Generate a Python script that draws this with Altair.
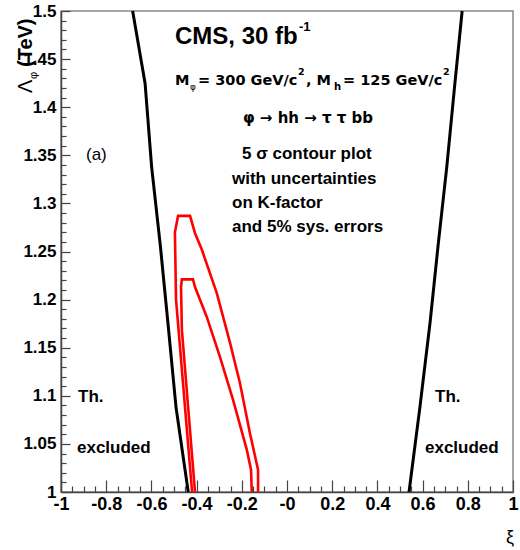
import altair as alt
import pandas as pd

# ---------------- data ----------------
lam_th = [1.5, 1.425, 1.338, 1.255, 1.176, 1.088, 1.0]
th_left_xi = [-0.683, -0.628, -0.599, -0.560, -0.527, -0.491, -0.437]
th_right_xi = [0.775, 0.743, 0.707, 0.668, 0.633, 0.588, 0.540]

outer_xi = [-0.420, -0.491, -0.496, -0.482, -0.429, -0.407, -0.377, -0.311,
            -0.252, -0.208, -0.164, -0.128, -0.128]
outer_lam = [1.000, 1.200, 1.270, 1.287, 1.287, 1.269, 1.252, 1.207,
             1.155, 1.113, 1.061, 1.023, 1.000]
inner_xi = [-0.407, -0.465, -0.469, -0.465, -0.416, -0.407, -0.355, -0.296,
            -0.239, -0.178, -0.159, -0.156]
inner_lam = [1.000, 1.168, 1.213, 1.221, 1.221, 1.213, 1.182, 1.140,
             1.096, 1.044, 1.023, 1.000]

x_major = [-1, -0.8, -0.6, -0.4, -0.2, 0, 0.2, 0.4, 0.6, 0.8, 1]
y_major = [1, 1.05, 1.1, 1.15, 1.2, 1.25, 1.3, 1.35, 1.4, 1.45, 1.5]
x_minor = [-0.95, -0.9, -0.85, -0.75, -0.7, -0.65, -0.55, -0.5, -0.45, -0.35, -0.3, -0.25,
           -0.15, -0.1, -0.05, 0.05, 0.1, 0.15, 0.25, 0.3, 0.35, 0.45, 0.5, 0.55,
           0.65, 0.7, 0.75, 0.85, 0.9, 0.95]
y_minor = [1.01, 1.02, 1.03, 1.04, 1.06, 1.07, 1.08, 1.09, 1.11, 1.12, 1.13, 1.14,
           1.16, 1.17, 1.18, 1.19, 1.21, 1.22, 1.23, 1.24, 1.26, 1.27, 1.28, 1.29,
           1.31, 1.32, 1.33, 1.34, 1.36, 1.37, 1.38, 1.39, 1.41, 1.42, 1.43, 1.44,
           1.46, 1.47, 1.48, 1.49]

# ---------------- layout ----------------
W, H = 452, 481
OX, OY = 61, 11
FONT = "Liberation Sans"
WIDE = "DejaVu Sans"

rows = []
for name, xs, ys in [("thL", th_left_xi, lam_th), ("thR", th_right_xi, lam_th),
                     ("outer", outer_xi, outer_lam), ("inner", inner_xi, inner_lam)]:
    for i, (a, b) in enumerate(zip(xs, ys)):
        rows.append({"series": name, "i": i, "xi": float(a), "lam": float(b)})
df = pd.DataFrame(rows)

xscale = alt.Scale(domain=[-1, 1], nice=False, zero=False)
yscale = alt.Scale(domain=[1, 1.5], nice=False, zero=False)

# labelled axes (no ticks)
common_axis = dict(grid=False, title="", labelFont=FONT, labelFontWeight="bold",
                   labelColor="black", labelOverlap=False, labelFlush=False, ticks=False,
                   domainColor="#444", domainWidth=1.5)
xaxis = alt.Axis(orient="bottom", values=x_major, labelPadding=3, labelFontSize=18,
                 labelExpr="datum.value == 0 ? '-0' : toString(datum.value)", **common_axis)
yaxis = alt.Axis(orient="left", values=y_major, labelPadding=5, labelFontSize=17,
                 labelExpr="toString(datum.value)", **common_axis)

# inward ROOT-style ticks: opposite-side axes moved onto the frame edges
tick_common = dict(labels=False, domain=False, grid=False, title="", ticks=True,
                   tickColor="#444", tickWidth=1.2)
xaxis_ticks = alt.Axis(
    orient="top", offset=-H, values=x_major + x_minor,
    tickSize={"condition": {"test": "abs(datum.value*5 - round(datum.value*5)) < 0.001", "value": 12},
              "value": 6},
    **tick_common)
yaxis_ticks = alt.Axis(
    orient="right", offset=-W, values=y_major + y_minor,
    tickSize={"condition": {"test": "abs(datum.value*20 - round(datum.value*20)) < 0.001", "value": 9},
              "value": 5},
    **tick_common)

black = alt.Chart(df).transform_filter("datum.series == 'thL' || datum.series == 'thR'").mark_line(
    color="black", strokeWidth=3).encode(
    x=alt.X("xi:Q", scale=xscale, axis=xaxis),
    y=alt.Y("lam:Q", scale=yscale, axis=yaxis),
    detail="series:N", order="i:Q")
red = alt.Chart(df).transform_filter("datum.series == 'outer' || datum.series == 'inner'").mark_line(
    color="#ff0000", strokeWidth=2.6).encode(
    x=alt.X("xi:Q", scale=xscale, axis=xaxis_ticks),
    y=alt.Y("lam:Q", scale=yscale, axis=yaxis_ticks),
    detail="series:N", order="i:Q")


def label(text, px, py, size, weight="bold", align="left", angle=0, font=FONT):
    return alt.Chart(pd.DataFrame({"t": [text]})).mark_text(
        align=align, baseline="alphabetic", font=font, fontSize=size, fontWeight=weight,
        angle=angle, color="black").encode(x=alt.value(px - OX), y=alt.value(py - OY), text="t:N")


texts = [
    label("CMS, 30 fb", 175, 44, 24),
    label("-1", 299, 31, 13),
    label("M", 175, 85, 14.5, font=WIDE),
    label("φ", 190, 90, 9, weight="normal", font=WIDE),
    label("= 300 GeV/c", 198, 85, 14.5, font=WIDE),
    label("2", 298, 75, 9.5, font=WIDE),
    label(", M", 306, 85, 14.5, font=WIDE),
    label("h", 334, 90, 10, font=WIDE),
    label("= 125 GeV/c", 343, 85, 14.5, font=WIDE),
    label("2", 443, 75, 9.5, font=WIDE),
    label("φ → hh → τ τ bb", 308, 123, 15, align="center", font=WIDE),
    label("5 σ contour plot", 242, 159, 17),
    label("with uncertainties", 232, 184, 17),
    label("on K-factor", 232, 208, 17),
    label("and 5% sys. errors", 232, 232, 17),
    label("(a)", 86, 160, 17, weight="normal"),
    label("Th.", 78, 402, 17),
    label("excluded", 77, 453, 17),
    label("Th.", 435, 402, 17),
    label("excluded", 425, 453, 17),
    label("Λ", 32, 93, 20, weight="normal", angle=270),
    label("φ", 37, 79, 11, weight="normal", angle=270),
    label("(TeV)", 32, 67, 20, angle=270),
    label("ξ", 510, 543, 18, weight="normal", align="center"),
]

chart = alt.layer(black, red, *texts).resolve_axis(x="independent", y="independent").properties(
    width=W, height=H,
    padding={"left": OX, "top": OY, "right": 520 - OX - W, "bottom": 550 - OY - H},
    autosize=alt.AutoSizeParams(type="none"),
).configure_view(stroke="#888", strokeWidth=1.5)

chart.save("out.html", embed_options={"renderer": "svg", "actions": False})
